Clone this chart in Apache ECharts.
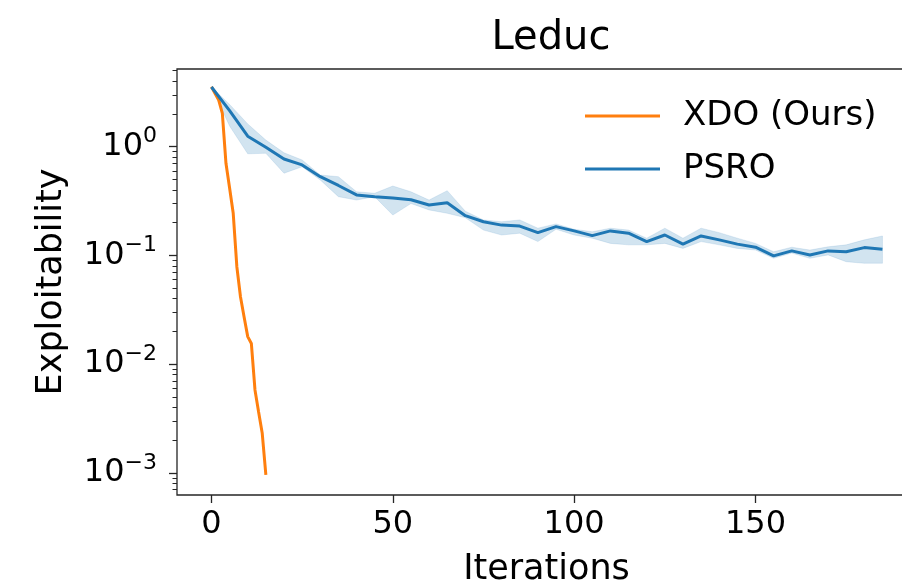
<!DOCTYPE html>
<html><head><meta charset="utf-8">
<script src="https://cdn.jsdelivr.net/npm/echarts@6/dist/echarts.min.js"></script>
<style>html,body{margin:0;padding:0;background:#fff}#c{width:902px;height:580px}</style>
</head><body><div id="c"></div>
<script>
const psroIters = [0,5,10,15,20,25,30,35,40,45,50,55,60,65,70,75,80,85,90,95,100,105,110,115,120,125,130,135,140,145,150,155,160,165,170,175,180,185];
const psroMean  = [3.54,2.15,1.25,0.99,0.77,0.68,0.53,0.44,0.36,0.347,0.337,0.325,0.291,0.305,0.232,0.204,0.190,0.186,0.162,0.184,0.168,0.152,0.168,0.160,0.134,0.154,0.127,0.151,0.139,0.127,0.119,0.099,0.110,0.101,0.110,0.108,0.118,0.114];
const psroUpper = [3.54,2.45,1.62,1.15,0.88,0.755,0.549,0.53,0.385,0.373,0.435,0.385,0.323,0.394,0.255,0.212,0.204,0.212,0.178,0.195,0.174,0.165,0.178,0.171,0.144,0.178,0.144,0.178,0.162,0.144,0.129,0.108,0.119,0.112,0.120,0.125,0.139,0.151];
const psroLower = [3.54,1.55,0.86,0.87,0.57,0.654,0.494,0.347,0.323,0.347,0.235,0.30,0.262,0.244,0.222,0.171,0.154,0.160,0.134,0.174,0.154,0.144,0.129,0.125,0.125,0.129,0.116,0.134,0.125,0.116,0.112,0.094,0.105,0.094,0.101,0.0875,0.0846,0.0846];
const xdoIters = [0,1,2,3,4,5,6,7,8,9,10,11,12,13,14,15];
const xdoMean  = [3.56,3.09,2.69,2.03,0.703,0.417,0.244,0.0787,0.0417,0.0271,0.0179,0.0155,0.00578,0.00362,0.00231,0.000955];
const xTicks = [0,50,100,150];
const yTicks = [0.001,0.01,0.1,1];
const yMinorTicks = [0.0007,0.0008,0.0009,0.002,0.003,0.004,0.005,0.006,0.007,0.008,0.009,0.02,0.03,0.04,0.05,0.06,0.07,0.08,0.09,0.2,0.3,0.4,0.5,0.6,0.7,0.8,0.9,2,3,4,5];
const seriesNames = ['XDO (Ours)','PSRO'];

const FONT = 'DejaVu Sans';
const YMIN = 6.25e-4, YMAX = 5.186;
const chart = echarts.init(document.getElementById('c'), null, {renderer:'canvas'});
const bandData = psroIters.map((x,i)=>[x, psroLower[i], psroUpper[i]]);
chart.setOption({
  animation:false,
  backgroundColor:'#fff',
  title:{text:'Leduc', left:546, top:14, textAlign:'center',
    textStyle:{fontFamily:FONT, fontSize:40, fontWeight:'normal', color:'#000'}},
  grid:{left:177, top:69, width:739, bottom:85, show:true, borderColor:'#262626', borderWidth:1.3,
    backgroundColor:'transparent', containLabel:false, outerBoundsMode:'none'},
  legend:{orient:'vertical', left:580, top:94, icon:'rect', itemWidth:75, itemHeight:3, itemGap:19,
    data:seriesNames,
    textStyle:{fontFamily:FONT, fontSize:34, color:'#000', padding:[0,0,0,18]}},
  xAxis:{type:'value', min:-9.5, max:194.25,
    name:'Iterations', nameLocation:'middle', nameGap:57,
    nameTextStyle:{fontFamily:FONT, fontSize:35, color:'#000'},
    axisLine:{show:false, onZero:false}, splitLine:{show:false},
    axisTick:{show:true, length:8, customValues:xTicks, lineStyle:{color:'#262626', width:1.3}},
    axisLabel:{customValues:xTicks, margin:14, fontFamily:FONT, fontSize:32, color:'#000'}},
  yAxis:[{type:'log', logBase:10, min:YMIN, max:YMAX,
    name:'Exploitability', nameLocation:'middle', nameGap:108, nameRotate:90,
    nameTextStyle:{fontFamily:FONT, fontSize:35, color:'#000'},
    axisLine:{show:false, onZero:false}, splitLine:{show:false}, minorTick:{show:false},
    axisTick:{show:true, length:8, customValues:yTicks, lineStyle:{color:'#262626', width:1.3}},
    axisLabel:{customValues:yTicks, margin:20, color:'#000',
      formatter:function(v){const e=Math.round(Math.log10(v));return '{b|10}{s|'+(e<0?'\u2212'+(-e):e)+'}';},
      rich:{b:{fontFamily:FONT,fontSize:32,lineHeight:32,verticalAlign:'bottom',color:'#000'},
            s:{fontFamily:FONT,fontSize:22,lineHeight:22,verticalAlign:'bottom',padding:[0,0,15,0],color:'#000'}}}},
   {type:'log', logBase:10, min:YMIN, max:YMAX, position:'left', offset:0,
    axisLine:{show:false, onZero:false}, splitLine:{show:false}, axisLabel:{show:false},
    axisTick:{show:true, length:4.5, customValues:yMinorTicks, lineStyle:{color:'#262626', width:1}}}],
  series:[
    {type:'custom', name:'band', silent:true, z:1, data:bandData, encode:{x:0,y:[1,2]},
     renderItem:function(params, api){
       if(params.dataIndex!==0) return null;
       const pts=[];
       for(let i=0;i<bandData.length;i++) pts.push(api.coord([bandData[i][0], bandData[i][2]]));
       for(let i=bandData.length-1;i>=0;i--) pts.push(api.coord([bandData[i][0], bandData[i][1]]));
       return {type:'polygon', shape:{points:pts}, style:{fill:'rgba(31,119,180,0.2)', stroke:'rgba(31,119,180,0.12)', lineWidth:1}};
     }},
    {type:'line', name:seriesNames[0], z:3, data:xdoIters.map((x,i)=>[x,xdoMean[i]]), symbol:'none',
     lineStyle:{color:'#ff7f0e', width:3}, itemStyle:{color:'#ff7f0e'}},
    {type:'line', name:seriesNames[1], z:4, data:psroIters.map((x,i)=>[x,psroMean[i]]), symbol:'none',
     lineStyle:{color:'#1f77b4', width:3}, itemStyle:{color:'#1f77b4'}}
  ]
});
</script></body></html>
